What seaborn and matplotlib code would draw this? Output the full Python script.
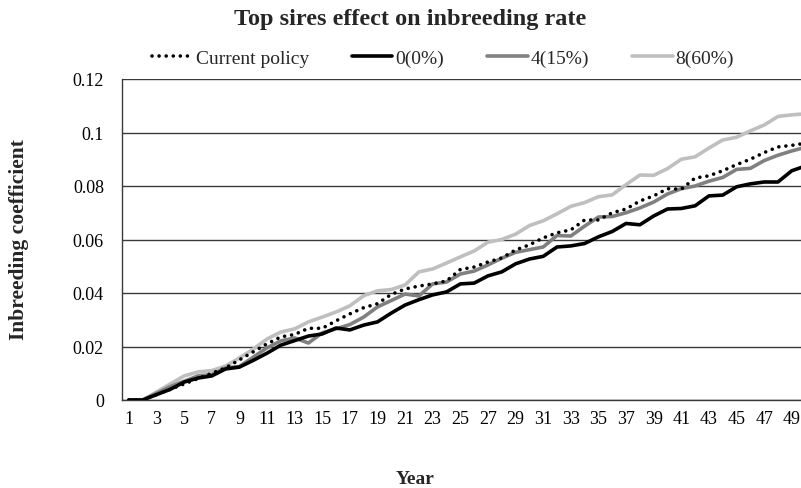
import numpy as np
import pandas as pd
import matplotlib
matplotlib.use("Agg")
import matplotlib.pyplot as plt
import seaborn as sns

years = list(range(1, 51))

current_policy = [
    0.0, 0.0, 0.002, 0.004, 0.006, 0.008, 0.010, 0.012, 0.015, 0.018,
    0.021, 0.0236, 0.0245, 0.0268, 0.0268, 0.0296, 0.0322, 0.0345, 0.036, 0.0395,
    0.0415, 0.0426, 0.0434, 0.0445, 0.0488, 0.0497, 0.0516, 0.0531, 0.0561, 0.058,
    0.0606, 0.0625, 0.0636, 0.0673, 0.0673, 0.070, 0.0714, 0.0744, 0.0763, 0.079,
    0.0788, 0.083, 0.0838, 0.0857, 0.088, 0.090, 0.0925, 0.0946, 0.0952, 0.096,
]
sires_0 = [
    0.0, 0.0, 0.002, 0.004, 0.0067, 0.0082, 0.009, 0.0116, 0.0123, 0.0148,
    0.0175, 0.0205, 0.0222, 0.0239, 0.0247, 0.0269, 0.0262, 0.0280, 0.0292, 0.0325,
    0.0355, 0.0375, 0.0393, 0.0404, 0.0434, 0.0437, 0.0464, 0.0479, 0.0509, 0.0527,
    0.0537, 0.0572, 0.0576, 0.0585, 0.061, 0.063, 0.066, 0.0655, 0.0688, 0.0714,
    0.0716, 0.0726, 0.0763, 0.0766, 0.0797, 0.0808, 0.0815, 0.0815, 0.0857, 0.0875,
]
sires_4 = [
    0.0, 0.0, 0.0025, 0.005, 0.007, 0.009, 0.0095, 0.012, 0.0125, 0.016,
    0.0195, 0.0221, 0.0232, 0.0213, 0.0251, 0.0266, 0.0282, 0.031, 0.0348, 0.0372,
    0.0396, 0.0389, 0.0434, 0.0441, 0.0471, 0.0482, 0.0505, 0.053, 0.0552, 0.0562,
    0.0572, 0.0615, 0.0613, 0.065, 0.0684, 0.0686, 0.070, 0.0718, 0.074, 0.077,
    0.079, 0.080, 0.0818, 0.0832, 0.0862, 0.0866, 0.0895, 0.0915, 0.0931, 0.0945,
]
sires_8 = [
    0.0, 0.0, 0.003, 0.006, 0.009, 0.0105, 0.011, 0.0127, 0.0157, 0.019,
    0.0228, 0.0254, 0.0266, 0.0292, 0.031, 0.0329, 0.0352, 0.039, 0.0408, 0.0413,
    0.043, 0.0479, 0.049, 0.0512, 0.0535, 0.0557, 0.059, 0.060, 0.062, 0.0652,
    0.067, 0.0696, 0.0724, 0.0738, 0.076, 0.0767, 0.0805, 0.0841, 0.084, 0.0865,
    0.090, 0.0909, 0.0942, 0.0972, 0.0982, 0.1006, 0.1028, 0.106, 0.1066, 0.107,
]

series_names = ["Current policy", "0(0%)", "4(15%)", "8(60%)"]
series_values = [current_policy, sires_0, sires_4, sires_8]
y_ticks = [0, 0.02, 0.04, 0.06, 0.08, 0.1, 0.12]
y_tick_labels = ["0", "0.02", "0.04", "0.06", "0.08", "0.1", "0.12"]

df = pd.DataFrame({
    "Year": np.tile(years, len(series_names)),
    "Inbreeding": np.concatenate(series_values),
    "Series": np.repeat(series_names, len(years)),
})

sns.set_theme(style="white")
plt.rcParams["font.family"] = ["Liberation Serif", "DejaVu Serif"]

fig = plt.figure(figsize=(8.01, 4.89), dpi=100)
ax = fig.add_axes([122 / 801, 88 / 489, 679 / 801, 321 / 489])

styles = {
    "Current policy": dict(color="black", linestyle=(0, (0.01, 1.95)), linewidth=2.6,
                           dash_capstyle="round"),
    "0(0%)": dict(color="black", linestyle="-", linewidth=2.6),
    "4(15%)": dict(color="#808080", linestyle="-", linewidth=2.6),
    "8(60%)": dict(color="#bfbfbf", linestyle="-", linewidth=2.6),
}
order = ["8(60%)", "4(15%)", "0(0%)", "Current policy"]
for name in order:
    sub = df[df["Series"] == name]
    sns.lineplot(data=sub, x="Year", y="Inbreeding", ax=ax, label=name,
                 zorder=3, **styles[name])

ax.set_ylim(0, 0.12)
ax.set_xlim(0.5, 0.5 + 679 / 13.81)
ax.set_yticks(y_ticks)
ax.set_yticklabels(y_tick_labels)
ax.set_xticks(years[::2])
ax.set_xticklabels([str(y) for y in years[::2]])
ax.tick_params(axis="both", length=0, labelsize=13, colors="black")
ax.tick_params(axis="y", pad=13)
ax.tick_params(axis="x", pad=7)
ax.grid(axis="y", color="#3a3a3a", linewidth=1.0, zorder=0)
ax.grid(axis="x", visible=False)
for side in ["top", "right"]:
    ax.spines[side].set_visible(False)
for side in ["left", "bottom"]:
    ax.spines[side].set_color("#3a3a3a")
    ax.spines[side].set_linewidth(1.0)

ax.set_xlabel("Year", fontsize=14, fontweight="bold")
ax.set_ylabel("Inbreeding coefficient", fontsize=15.5, fontweight="bold")
ax.xaxis.label.set_va("center")
ax.yaxis.label.set_va("center")
ax.xaxis.set_label_coords((415 - 122) / 679, -(480 - 401) / 321)
ax.yaxis.set_label_coords(-(122 - 19) / 679, (401 - 240) / 321)

handles, labels = ax.get_legend_handles_labels()
hmap = dict(zip(labels, handles))
ax.legend([hmap[n] for n in series_names], series_names, ncol=4,
          loc="center", bbox_to_anchor=((443 - 122) / 679, (401 - 59) / 321),
          frameon=False, fontsize=14, handlelength=2.1, handletextpad=0.15,
          columnspacing=2.2)

fig.text(410 / 801, 1 - 20 / 489, "Top sires effect on inbreeding rate",
         ha="center", va="center", fontsize=17.5, fontweight="bold")

fig.savefig("out.png", dpi=100)
